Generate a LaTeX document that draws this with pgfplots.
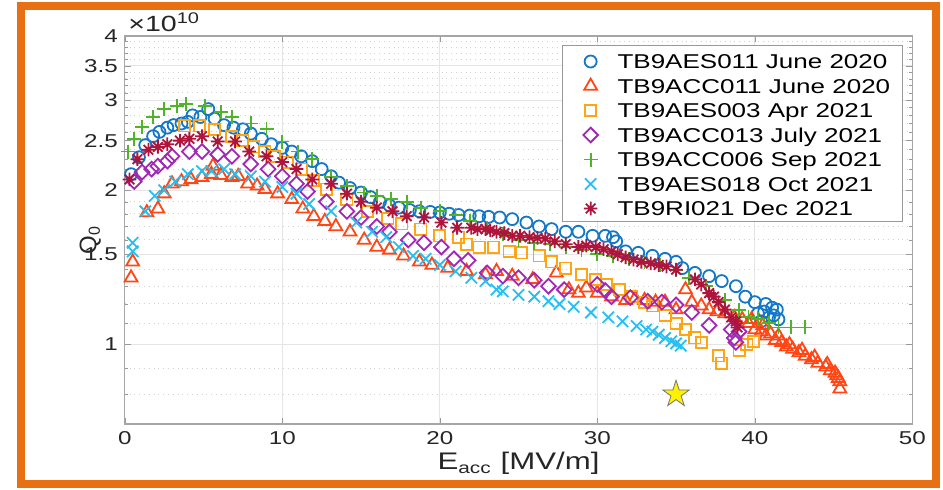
\documentclass[border=0pt]{standalone}
\usepackage{fontspec}
\setmainfont{Liberation Sans}
\usepackage{graphicx}
\usepackage{pgfplots}
\pgfplotsset{compat=1.18}
\newcommand{\sx}[1]{\scalebox{1.3}[1]{#1}}
\definecolor{cblue}{RGB}{20,120,200}
\definecolor{cred}{RGB}{255,70,20}
\definecolor{cyel}{RGB}{255,165,20}
\definecolor{cpur}{RGB}{160,40,180}
\definecolor{cgrn}{RGB}{80,180,40}
\definecolor{ccya}{RGB}{40,190,240}
\definecolor{cdred}{RGB}{175,20,60}
\definecolor{cfr}{RGB}{232,112,20}
\definecolor{ctxt}{RGB}{38,38,38}
% 8-armed asterisk like MATLAB's '*'
\pgfdeclareplotmark{ast8}{%
  \pgfpathmoveto{\pgfqpoint{0pt}{\pgfplotmarksize}}\pgfpathlineto{\pgfqpoint{0pt}{-\pgfplotmarksize}}%
  \pgfpathmoveto{\pgfqpoint{\pgfplotmarksize}{0pt}}\pgfpathlineto{\pgfqpoint{-\pgfplotmarksize}{0pt}}%
  \pgfpathmoveto{\pgfqpoint{.7071\pgfplotmarksize}{.7071\pgfplotmarksize}}\pgfpathlineto{\pgfqpoint{-.7071\pgfplotmarksize}{-.7071\pgfplotmarksize}}%
  \pgfpathmoveto{\pgfqpoint{.7071\pgfplotmarksize}{-.7071\pgfplotmarksize}}\pgfpathlineto{\pgfqpoint{-.7071\pgfplotmarksize}{.7071\pgfplotmarksize}}%
  \pgfusepathqstroke}
% filled five-pointed star (MATLAB 'p')
\pgfdeclareplotmark{fstar}{%
  \pgfpathmoveto{\pgfqpoint{0pt}{\pgfplotmarksize}}%
  \pgfpathlineto{\pgfqpoint{.2245\pgfplotmarksize}{.309\pgfplotmarksize}}%
  \pgfpathlineto{\pgfqpoint{.951\pgfplotmarksize}{.309\pgfplotmarksize}}%
  \pgfpathlineto{\pgfqpoint{.3633\pgfplotmarksize}{-.118\pgfplotmarksize}}%
  \pgfpathlineto{\pgfqpoint{.588\pgfplotmarksize}{-.809\pgfplotmarksize}}%
  \pgfpathlineto{\pgfqpoint{0pt}{-.382\pgfplotmarksize}}%
  \pgfpathlineto{\pgfqpoint{-.588\pgfplotmarksize}{-.809\pgfplotmarksize}}%
  \pgfpathlineto{\pgfqpoint{-.3633\pgfplotmarksize}{-.118\pgfplotmarksize}}%
  \pgfpathlineto{\pgfqpoint{-.951\pgfplotmarksize}{.309\pgfplotmarksize}}%
  \pgfpathlineto{\pgfqpoint{-.2245\pgfplotmarksize}{.309\pgfplotmarksize}}%
  \pgfpathclose\pgfusepathqfillstroke}
\pgfplotsset{mk/.style={only marks, line width=0.9pt,
  legend image code/.code={\path (0pt,0pt) (15pt,0pt); \draw[##1] plot coordinates {(7.5pt,3.6pt)};}}}
\begin{document}
\begin{tikzpicture}
\path[use as bounding box] (0pt,0pt) rectangle (471.5pt,245pt);
\draw[line width=4pt, cfr] (10.5pt,3pt) rectangle (467.75pt,241.85pt);
\begin{axis}[at={(62.4pt,33pt)}, anchor=south west, scale only axis,
  width=393.75pt, height=194pt, clip mode=individual,
  xmin=0, xmax=50, ymin=0.7, ymax=4, ymode=log,
  xtick={0,10,20,30,40,50},
  xticklabels={\sx{0},\sx{10},\sx{20},\sx{30},\sx{40},\sx{50}},
  ytick={1,1.5,2,2.5,3,3.5,4},
  yticklabels={\sx{1},\sx{1.5},\sx{2},\sx{2.5},\sx{3},\sx{3.5},\sx{4}},
  minor ytick={0.8,0.9,1.1,1.2,1.3,1.4,1.6,1.7,1.8,1.9,2.1,2.2,2.3,2.4,2.6,2.7,2.8,2.9,3.1,3.2,3.3,3.4,3.6,3.7,3.8,3.9},
  tick pos=both, tick align=inside,
  major tick length=3pt, minor tick length=1.8pt,
  tick style={black!40}, axis line style={black!35, line width=0.6pt},
  grid=both, major grid style={black!10, line width=0.5pt},
  minor grid style={black!18, dotted, line width=0.5pt},
  tick label style={font=\fontsize{9.3}{11}\selectfont, text=ctxt},
  xlabel={\sx{E\textsubscript{acc} [MV/m]}},
  xlabel style={at={(axis description cs:0.5,-0.118)}, anchor=base, font=\fontsize{12}{14}\selectfont, text=ctxt},
  ylabel={Q\textsubscript{0}},
  ylabel style={at={(axis description cs:-0.044,0.474)}, anchor=center, font=\fontsize{12}{14}\selectfont, text=ctxt},
  legend cell align=left,
  legend style={at={(0.988,0.977)}, anchor=north east, draw=black!40, line width=0.6pt, fill=white,
    font=\fontsize{10}{12}\selectfont, inner xsep=6pt, inner ysep=1.5pt,
    /tikz/column sep=5.5pt, /tikz/row sep=0.75pt,
    cells={anchor=base west},
    nodes={inner sep=0pt, text height=10.1pt, text depth=1.4pt}},
]
\node[anchor=base west, inner sep=0pt, font=\fontsize{11}{13}\selectfont, text=ctxt] at (axis description cs:0.004,1.011) {\sx{×10\textsuperscript{10}}};
% TB9AES011 June 2020
\addplot[mk, cblue, mark=o, mark size=3pt] coordinates {
(0.4,2.15) (0.9,2.32) (1.3,2.45) (1.8,2.55) (2.2,2.6) (2.7,2.65) (3.1,2.68) (3.6,2.7) (4.0,2.72) (4.3,2.8)
(4.8,2.78) (5.3,2.88) (5.7,2.76) (6.3,2.68) (6.9,2.65) (7.5,2.63) (8.0,2.58) (8.7,2.52) (9.3,2.46) (10.0,2.42)
(10.6,2.38) (11.2,2.33) (11.9,2.28) (12.5,2.2) (13.1,2.13) (13.6,2.07) (14.3,2.02) (15.0,1.98) (15.6,1.94) (16.2,1.9)
(16.8,1.87) (17.4,1.85) (18.1,1.83) (18.7,1.82) (19.4,1.815) (20.0,1.81) (20.6,1.8) (21.2,1.79) (21.9,1.785) (22.5,1.78)
(23.1,1.775) (23.8,1.77) (24.6,1.757) (25.5,1.73) (26.3,1.70) (27.1,1.68) (28.0,1.66) (28.8,1.66) (29.7,1.63) (30.5,1.63)
(31.2,1.59) (31.0,1.62) (31.8,1.52) (32.6,1.51) (33.5,1.49) (34.3,1.47) (35.0,1.45) (35.4,1.41) (36.2,1.38) (37.1,1.36)
(37.9,1.33) (38.8,1.30) (39.4,1.24) (40.0,1.21) (40.7,1.20) (41.1,1.18) (41.4,1.17) (40.9,1.13) (40.4,1.11) (41.2,1.14)
(40.6,1.16) (41.5,1.12) (40.2,1.15)
};
\addlegendentry{\sx{TB9AES011 June 2020}}
% TB9ACC011 June 2020
\addplot[mk, cred, mark=triangle, mark size=3.7pt] coordinates {
(0.4,1.35) (0.5,1.45) (1.4,1.81) (2.1,1.84) (2.5,1.97) (3.0,2.06) (3.6,2.08) (4.2,2.1) (4.9,2.12) (5.5,2.15)
(5.6,2.23) (6.1,2.14) (6.8,2.12) (7.2,2.13) (7.8,2.06) (8.4,2.04) (8.9,2.01) (9.7,1.97) (10.6,1.92) (11.3,1.84)
(12.0,1.78) (12.7,1.74) (13.4,1.70) (14.3,1.66) (15.2,1.60) (16.0,1.55) (16.8,1.53) (17.7,1.49) (18.7,1.45) (19.5,1.43)
(20.5,1.41) (21.7,1.39) (22.9,1.37) (23.6,1.39) (24.6,1.36) (25.9,1.34) (27.4,1.38) (28.2,1.28) (28.8,1.26) (29.3,1.29)
(30.0,1.26) (30.9,1.24) (31.8,1.22) (32.4,1.23) (33.0,1.22) (33.7,1.21) (34.3,1.21) (35.0,1.17) (35.6,1.28) (36.0,1.21)
(36.6,1.19) (37.1,1.17) (37.6,1.16) (38.1,1.15) (38.7,1.13) (39.2,1.12) (39.6,1.10) (39.8,1.12) (40.0,1.07) (40.4,1.06)
(40.5,1.09) (40.7,1.04) (41.0,1.05) (41.3,1.02) (41.5,1.04) (41.7,1.01) (42.0,0.99) (42.2,1.00) (42.4,0.98) (42.8,0.965)
(43.0,0.975) (43.2,0.95) (43.6,0.935) (43.8,0.945) (44.0,0.92) (44.5,0.905) (44.6,0.915) (44.8,0.89) (45.1,0.88) (45.2,0.87)
(45.3,0.86) (45.4,0.847) (45.4,0.82)
};
\addlegendentry{\sx{TB9ACC011 June 2020}}
% TB9AES003 Apr 2021
\addplot[mk, cyel, mark=square, mark size=2.8pt] coordinates {
(3.8,2.67) (4.75,2.67) (5.7,2.63) (6.8,2.55) (7.5,2.5) (8.2,2.43) (8.9,2.38) (9.5,2.33) (10.3,2.27) (11.2,2.2)
(12.0,2.09) (12.8,2.01) (14.1,1.92) (15.4,1.82) (16.7,1.76) (17.6,1.72) (18.8,1.68) (20.0,1.63) (21.2,1.62) (21.7,1.57)
(22.5,1.55) (23.4,1.55) (24.4,1.52) (25.2,1.51) (26.3,1.49) (27.1,1.45) (28.0,1.41) (29.0,1.37) (29.9,1.34) (30.6,1.31)
(31.4,1.28) (32.2,1.24) (33.0,1.21) (33.5,1.19) (34.3,1.14) (35.0,1.10) (35.6,1.07) (36.2,1.03) (36.6,1.01) (37.7,0.95)
(37.9,0.92) (39.0,0.975) (39.5,1.0) (39.9,1.015)
};
\addlegendentry{\sx{TB9AES003 Apr 2021}}
% TB9ACC013 July 2021
\addplot[mk, cpur, mark=square, mark size=2.6pt, mark options={rotate=45}] coordinates {
(0.6,2.08) (1.1,2.17) (1.7,2.2) (2.1,2.23) (2.7,2.28) (3.0,2.33) (4.1,2.38) (4.9,2.38) (5.9,2.35) (6.8,2.33)
(8.0,2.25) (9.1,2.2) (10.0,2.13) (10.9,2.06) (11.6,1.99) (12.8,1.9) (14.1,1.82) (15.0,1.77) (16.0,1.70) (16.8,1.66)
(18.0,1.60) (19.0,1.58) (20.1,1.55) (20.9,1.47) (21.8,1.46) (23.0,1.38) (24.0,1.36) (25.0,1.35) (26.0,1.335) (26.9,1.30)
(27.9,1.28) (30.0,1.31) (30.5,1.275) (30.9,1.24) (32.1,1.235) (33.2,1.215) (34.1,1.21) (35.0,1.195) (36.0,1.155) (37.1,1.09)
(38.5,1.07) (38.7,1.03) (38.8,1.01) (39.0,1.06)
};
\addlegendentry{\sx{TB9ACC013 July 2021}}
% TB9ACC006 Sep 2021
\addplot[mk, cgrn, mark=+, mark size=3.5pt] coordinates {
(0.2,2.38) (0.6,2.52) (1.1,2.66) (1.8,2.78) (2.5,2.88) (3.3,2.92) (3.9,2.95) (5.1,2.92) (6.1,2.84) (6.8,2.78)
(8.0,2.70) (9.0,2.63) (10.0,2.49) (11.0,2.38) (11.9,2.30) (13.1,2.12) (14.1,2.04) (15.2,1.98) (16.0,1.95) (16.9,1.92)
(17.9,1.90) (18.8,1.85) (20.0,1.82) (21.0,1.79) (21.9,1.74) (23.0,1.69) (24.0,1.64) (25.0,1.60) (26.0,1.58) (27.0,1.57)
(28.0,1.55) (29.0,1.53) (30.0,1.50) (31.0,1.49) (32.0,1.47) (33.0,1.45) (34.0,1.43) (35.0,1.40) (35.8,1.35) (36.9,1.30)
(38.1,1.22) (39.0,1.17) (39.6,1.13) (40.2,1.12) (40.9,1.10) (41.5,1.08) (42.3,1.08) (43.2,1.08)
};
\addlegendentry{\sx{TB9ACC006 Sep 2021}}
% TB9AES018 Oct 2021
\addplot[mk, ccya, mark=x, mark size=4pt] coordinates {
(0.5,1.58) (0.5,1.52) (1.3,1.82) (1.9,1.95) (2.5,2.0) (3.2,2.08) (4.0,2.15) (4.9,2.18) (5.5,2.18) (6.3,2.2)
(7.0,2.15) (8.0,2.13) (8.9,2.08) (10.0,2.03) (10.9,1.97) (11.7,1.88) (13.1,1.82) (14.7,1.73) (15.7,1.66) (16.6,1.62)
(17.4,1.55) (18.3,1.49) (19.1,1.47) (20.0,1.43) (21.0,1.39) (22.0,1.35) (22.9,1.33) (23.6,1.28) (24.0,1.27) (25.0,1.25)
(26.0,1.24) (26.9,1.215) (27.6,1.2) (28.5,1.185) (29.6,1.155) (30.7,1.13) (31.6,1.11) (32.5,1.087) (33.1,1.07) (33.5,1.06)
(33.9,1.045) (34.3,1.03) (34.7,1.015) (35.0,1.005) (35.3,0.995)
};
\addlegendentry{\sx{TB9AES018 Oct 2021}}
% TB9RI021 Dec 2021
\addplot[mk, cdred, mark=ast8, mark size=3.4pt] coordinates {
(0.3,2.1) (0.8,2.3) (1.5,2.4) (2.1,2.43) (2.7,2.46) (3.5,2.5) (4.1,2.52) (4.9,2.55) (5.9,2.49) (7.0,2.49)
(7.9,2.38) (9.0,2.33) (10.0,2.27) (10.9,2.2) (11.9,2.1) (13.1,2.06) (14.1,1.97) (15.0,1.9) (16.0,1.85) (17.0,1.82)
(17.9,1.78) (19.0,1.77) (20.1,1.73) (21.1,1.69) (22.0,1.69) (22.4,1.68) (22.9,1.68) (23.2,1.67) (23.6,1.66) (24.1,1.65)
(24.6,1.63) (25.1,1.63) (25.7,1.62) (26.2,1.615) (26.7,1.61) (27.3,1.59) (28.0,1.57) (28.8,1.55) (29.3,1.56) (29.9,1.55)
(30.4,1.535) (30.9,1.52) (31.3,1.50) (31.8,1.48) (32.3,1.465) (32.8,1.45) (33.4,1.44) (33.9,1.43) (34.4,1.42) (35.0,1.40)
(36.2,1.34) (36.6,1.31) (37.1,1.26) (37.4,1.24) (37.7,1.21) (38.1,1.17) (38.5,1.13) (38.8,1.11) (38.9,1.08)
};
\addlegendentry{\sx{TB9RI021 Dec 2021}}
\addplot[only marks, mark=fstar, mark size=7pt, mark options={fill=yellow, draw=black!55, line width=0.4pt}, forget plot] coordinates {(35,0.8)};
\end{axis}
\end{tikzpicture}
\end{document}
